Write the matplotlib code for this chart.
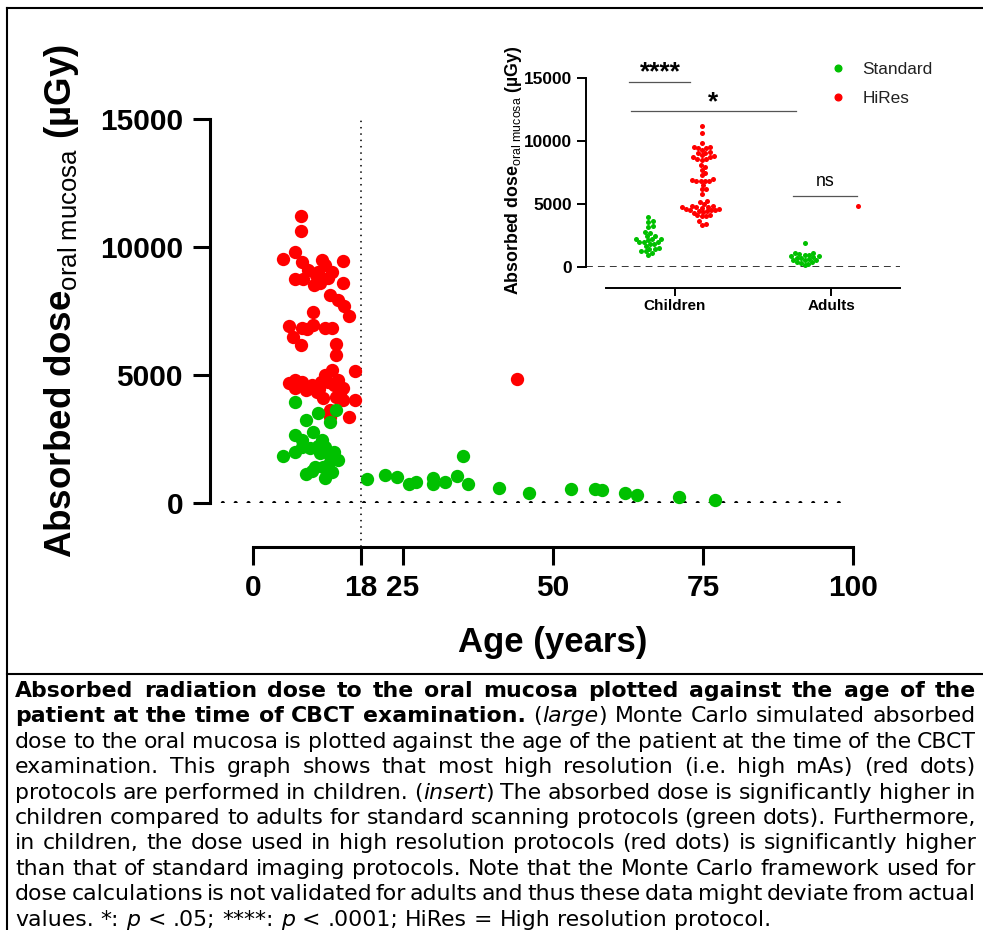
import numpy as np
import matplotlib
matplotlib.use("Agg")
import matplotlib.pyplot as plt
from matplotlib.lines import Line2D

W, H = 983, 930

# ---- data ----
std_age = [7.0, 13.9, 10.9, 8.9, 12.8, 10.0, 7.0, 8.1, 9.5, 12.0, 8.1, 10.9, 5.0, 7.0,
           11.2, 12.8, 14.2, 8.9, 10.3, 12.0, 13.1, 11.7, 12.5, 9.8, 11.5, 13.5,
           19.0, 22.0, 24.0, 26.0, 27.1, 30.0, 30.0, 32.0, 34.0, 35.0, 35.9, 41.0,
           46.0, 53.0, 57.0, 58.1, 62.0, 64.0, 71.0, 77.0]
std_dose = [3960, 3630, 3530, 3240, 3180, 2790, 2660, 2460, 2140, 2200, 2200, 2230, 1840, 1980,
            1940, 1840, 1680, 1130, 1420, 965, 1220, 1420, 1480, 1250, 2480, 2000,
            925, 1090, 1030, 730, 830, 965, 740, 830, 1055, 1850, 730, 600,
            380, 550, 550, 510, 380, 310, 250, 120]
hires_age = [8.0, 8.0, 5.0, 7.0, 8.1, 15.0, 9.2, 12.0, 13.1, 10.9, 7.0, 8.4, 10.2, 11.2,
             15.0, 12.8, 14.1, 15.2, 16.0, 10.0, 6.0, 8.1, 10.0, 12.0, 13.1, 6.7, 8.0,
             13.9, 13.9, 17.0, 13.1, 12.0, 6.0, 7.0, 8.1, 7.0, 9.8, 11.4, 12.5, 14.2,
             15.0, 10.6, 11.7, 13.9, 15.0, 17.0, 12.8, 12.8, 16.0, 8.9,
             9.5, 11.0, 13.5, 14.5, 10.5, 12.5, 9.0, 11.5, 44.0]
hires_dose = [11200, 10640, 9540, 9820, 9430, 9470, 9100, 9300, 9040, 9040, 8750, 8740, 8520, 8580,
              8610, 8120, 7930, 7700, 7300, 7450, 6910, 6820, 6950, 6820, 6820, 6500, 6170,
              6210, 5780, 5170, 5200, 5000, 4700, 4800, 4740, 4480, 4610, 4740, 4740, 4800,
              4480, 4350, 4090, 4150, 4020, 4020, 3630, 3370, 3350, 4410,
              4500, 4450, 4600, 4300, 8900, 8800, 6800, 9500, 4830]
age_ticks = [0, 18, 25, 50, 75, 100]
dose_ticks = [0, 5000, 10000, 15000]
groups = ["Children", "Adults"]
protocols = ["Standard", "HiRes"]
adult_age = 18

green = "#00C000"
red = "#FF0000"

plt.rcParams["font.family"] = ["Liberation Sans", "DejaVu Sans"]
plt.rcParams["mathtext.fontset"] = "custom"
plt.rcParams["mathtext.rm"] = "Liberation Sans"
plt.rcParams["mathtext.it"] = "Liberation Sans:italic"
plt.rcParams["mathtext.bf"] = "Liberation Sans:bold"


def fx(px):
    return px / W


def fy(py):
    return 1 - py / H


fig = plt.figure(figsize=(W / 100, H / 100), dpi=100)

# ---- main chart ----
ax = fig.add_axes([fx(210), fy(503), 643 / W, 384 / H])
ax.set_xlim(-7.17, 100)
ax.set_ylim(0, 15000)
ax.axhline(0, xmax=0.985, color="black", lw=3.0, linestyle=(0, (0.01, 3.07)),
           dash_capstyle="round", zorder=1)
ax.axvline(adult_age, ymin=-0.112, ymax=1.0, color="black", lw=1.3,
           linestyle=(0, (0.01, 3.5)), dash_capstyle="round", clip_on=False, zorder=1)
ax.scatter(hires_age, hires_dose, s=92, color=red, lw=0, clip_on=False, zorder=3)
ax.scatter(std_age, std_dose, s=92, color=green, lw=0, clip_on=False, zorder=3)

for s in ["top", "right"]:
    ax.spines[s].set_visible(False)
ax.spines["left"].set_linewidth(2.2)
ax.spines["left"].set_bounds(0, 15000)
ax.spines["bottom"].set_linewidth(2.2)
ax.spines["bottom"].set_position(("outward", 31.5))
ax.spines["bottom"].set_bounds(0, 100)
ax.set_xticks(age_ticks)
ax.set_xticklabels([str(t) for t in age_ticks], fontweight="bold")
ax.set_yticks(dose_ticks)
ax.set_yticklabels([str(t) for t in dose_ticks], fontweight="bold")
ax.tick_params(axis="y", length=12.2, width=2.2, pad=7.2, labelsize=21.5)
ax.tick_params(axis="x", length=13, width=2.2, pad=6.8, labelsize=21.5)

fig.text(fx(552.5), fy(642.5), "Age (years)", ha="center", va="center",
         fontsize=25, fontweight="bold")
fig.text(fx(62), fy(301), r"Absorbed dose$_{\mathrm{oral\ mucosa}}$ (µGy)", rotation=90,
         ha="center", va="center", fontsize=26.5, fontweight="bold")

# ---- insert ----
axi = fig.add_axes([fx(586), fy(266.7), 314 / W, 188.4 / H])
axi.set_xlim(-0.5705, 1.442)
axi.set_ylim(0, 15000)
x_scale = 156.0
y_scale = 188.4 / 15000
sub_off = 0.17


def swarm(values, d_px=4.3):
    vals = np.sort(np.asarray(values, float))
    placed = []
    for v in vals:
        y = v * y_scale
        near = [(px, py) for px, py in placed if abs(py - y) < d_px]
        cands = [0.0]
        for px, py in near:
            dx = np.sqrt(d_px ** 2 - (py - y) ** 2)
            cands += [px + dx, px - dx]
        cands.sort(key=abs)
        for c in cands:
            if all((c - px) ** 2 + (y - py) ** 2 >= d_px ** 2 - 1e-6 for px, py in near):
                break
        placed.append((c, y))
    return vals, np.array([p[0] for p in placed]) / x_scale


std_age_a = np.array(std_age)
std_dose_a = np.array(std_dose)
hr_age_a = np.array(hires_age)
hr_dose_a = np.array(hires_dose)
for gi, grp in enumerate(groups):
    is_child = gi == 0
    sel_s = (std_age_a < adult_age) if is_child else (std_age_a >= adult_age)
    sel_h = (hr_age_a < adult_age) if is_child else (hr_age_a >= adult_age)
    v, o = swarm(std_dose_a[sel_s])
    axi.scatter(gi - sub_off + o, v, s=13, color=green, lw=0, zorder=3)
    v, o = swarm(hr_dose_a[sel_h])
    axi.scatter(gi + sub_off + o, v, s=13, color=red, lw=0, zorder=3)

axi.axhline(0, color="black", lw=1.1, linestyle=(0, (4.5, 3.3)), zorder=1)
for s in ["top", "right"]:
    axi.spines[s].set_visible(False)
axi.spines["left"].set_linewidth(1.4)
axi.spines["left"].set_bounds(0, 15000)
axi.spines["bottom"].set_linewidth(1.4)
axi.spines["bottom"].set_position(("outward", 15))
axi.spines["bottom"].set_bounds(-0.442, 1.442)
axi.set_xticks([0, 1])
axi.set_xticklabels(groups, fontweight="bold")
axi.set_yticks(dose_ticks)
axi.set_yticklabels([str(t) for t in dose_ticks], fontweight="bold")
axi.tick_params(axis="y", length=6.5, width=1.4, pad=3.5, labelsize=12.4)
axi.tick_params(axis="x", length=6, width=1.4, pad=2.6, labelsize=11)

# significance brackets
bar_col = "#555555"
axi.plot([-0.295, 0.096], [14729, 14729], color=bar_col, lw=0.9, clip_on=False)
axi.text(-0.096, 14900, "****", ha="center", va="baseline", fontsize=19, fontweight="bold")
axi.plot([-0.284, 0.774], [12420, 12420], color=bar_col, lw=0.9, clip_on=False)
axi.text(0.242, 12530, "*", ha="center", va="baseline", fontsize=19, fontweight="bold")
axi.plot([0.756, 1.165], [5653, 5653], color=bar_col, lw=0.9, clip_on=False)
axi.text(0.9615, 6425, "ns", ha="center", va="baseline", fontsize=12.8)

fig.text(fx(513), fy(170), r"Absorbed dose$_{\mathrm{oral\ mucosa}}$ (µGy)", rotation=90,
         ha="center", va="center", fontsize=12.8, fontweight="bold")

handles = [Line2D([], [], marker="o", ls="", color=green, markersize=4.8),
           Line2D([], [], marker="o", ls="", color=red, markersize=4.8)]
fig.legend(handles=handles, labels=protocols, loc="upper left",
           bbox_to_anchor=(fx(829), fy(62)), frameon=False,
           prop={"family": "Liberation Sans", "size": 12.4},
           handlelength=1.0, handletextpad=0.95, labelspacing=0.78,
           borderpad=0, borderaxespad=0, labelcolor="#222222")

# ---- frame ----
fig.add_artist(Line2D([fx(7), fx(7)], [fy(8), 0], transform=fig.transFigure, color="black", lw=1.5))
fig.add_artist(Line2D([fx(7), 1], [fy(8), fy(8)], transform=fig.transFigure, color="black", lw=1.5))
fig.add_artist(Line2D([fx(7), 1], [fy(674), fy(674)], transform=fig.transFigure, color="black", lw=1.5))

# ---- caption (justified) ----
cap_lines = [
    [("Absorbed radiation dose to the oral mucosa plotted against the age of the", "b")],
    [("patient at the time of CBCT examination.", "b"), (" (", "r"), ("large", "i"),
     (") Monte Carlo simulated absorbed", "r")],
    [("dose to the oral mucosa is plotted against the age of the patient at the time of the CBCT", "r")],
    [("examination. This graph shows that most high resolution (i.e. high mAs) (red dots)", "r")],
    [("protocols are performed in children. (", "r"), ("insert", "i"),
     (") The absorbed dose is significantly higher in", "r")],
    [("children compared to adults for standard scanning protocols (green dots). Furthermore,", "r")],
    [("in children, the dose used in high resolution protocols (red dots) is significantly higher", "r")],
    [("than that of standard imaging protocols. Note that the Monte Carlo framework used for", "r")],
    [("dose calculations is not validated for adults and thus these data might deviate from actual", "r")],
    [("values. *: ", "r"), ("p", "i"), (" < .05; ****: ", "r"), ("p", "i"),
     (" < .0001; HiRes = High resolution protocol.", "r")],
]
styles = {"r": dict(fontweight="normal", fontstyle="normal"),
          "b": dict(fontweight="bold", fontstyle="normal"),
          "i": dict(fontweight="normal", fontstyle="italic")}
cap_font = dict(family="DejaVu Sans", fontsize=15.8, color="black")
renderer = fig.canvas.get_renderer()


def measure(txt, st):
    t = fig.text(0, 0, txt, **cap_font, **styles[st])
    w = t.get_window_extent(renderer=renderer).width
    t.remove()
    return w


space_w = measure("a a", "r") - measure("aa", "r")
L, R = 15, 976
y0, step = 697, 25.4
for li, segs in enumerate(cap_lines):
    words = [[]]
    for txt, st in segs:
        for k, part in enumerate(txt.split(" ")):
            if k > 0:
                words.append([])
            if part:
                words[-1].append((part, st))
    words = [w for w in words if w]
    widths = [[measure(p, st) for p, st in w] for w in words]
    total = sum(sum(w) for w in widths)
    last = li == len(cap_lines) - 1
    gap = space_w if last else (R - L - total) / (len(words) - 1)
    x = L
    y = y0 + li * step
    for w, ws in zip(words, widths):
        xx = x
        for (p, st), pw in zip(w, ws):
            fig.text(fx(xx), fy(y), p, ha="left", va="baseline", **cap_font, **styles[st])
            xx += pw
        x += sum(ws) + gap

fig.savefig("out.png", dpi=100)
